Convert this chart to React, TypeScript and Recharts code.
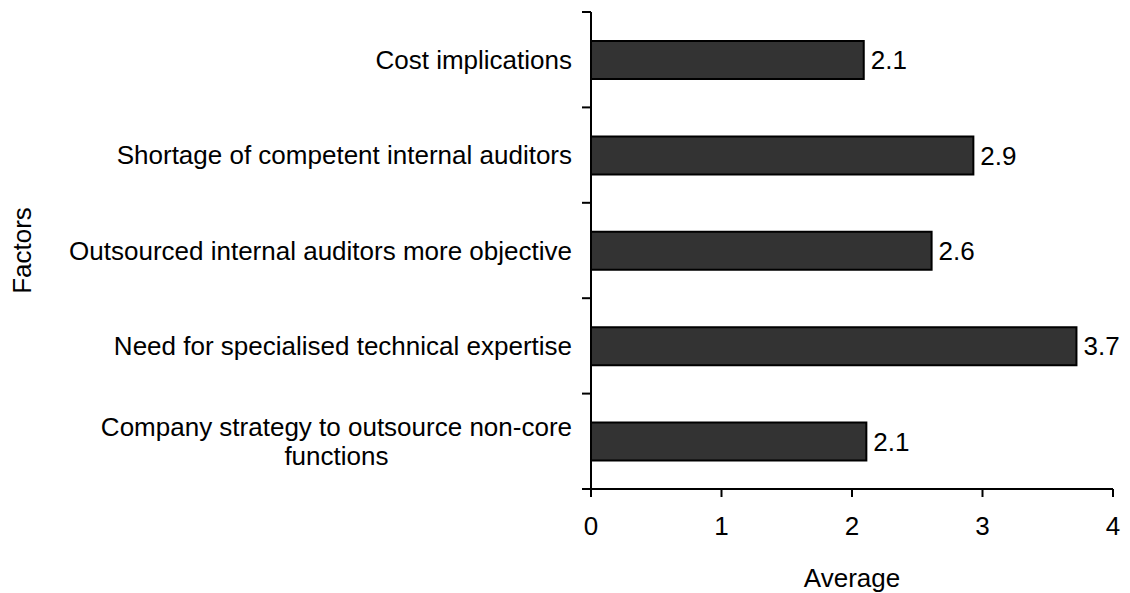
import React from 'react';
import { BarChart, Bar, XAxis, YAxis, LabelList } from 'recharts';

const factors = [
  'Cost implications',
  'Shortage of competent internal auditors',
  'Outsourced internal auditors more objective',
  'Need for specialised technical expertise',
  'Company strategy to outsource non-core\nfunctions',
];
const averages = [2.09, 2.93, 2.61, 3.72, 2.11];
const xTicks = [0, 1, 2, 3, 4];

const W = 1130;
const H = 593;
const PLOT_LEFT = 591;
const PLOT_TOP = 12;
const PLOT_BOTTOM = 489;
const PLOT_RIGHT = 1113;
const BAND = (PLOT_BOTTOM - PLOT_TOP) / factors.length;
const FONT = '"Liberation Sans", Arial, Helvetica, sans-serif';
const FS = 26;

const data = factors.map((name, i) => ({ name, value: averages[i] }));

let ctx: CanvasRenderingContext2D | null = null;
const measure = (s: string) => {
  if (!ctx) ctx = document.createElement('canvas').getContext('2d');
  if (!ctx) return s.length * FS * 0.5;
  ctx.font = `${FS}px ${FONT}`;
  return ctx.measureText(s).width;
};

// category tick: labels plus tick marks on band boundaries
const FactorTick = (props: any) => {
  const { y, payload, index } = props;
  const lines: string[] = String(payload.value).split('\n');
  const right = PLOT_LEFT - 19;
  const top = y - BAND / 2;
  const bottom = y + BAND / 2;
  const lineH = 29;
  let textEl;
  if (lines.length === 1) {
    textEl = (
      <text x={right} y={y} textAnchor="end" dominantBaseline="central" fill="#000" fontSize={FS} fontFamily={FONT}>
        {lines[0]}
      </text>
    );
  } else {
    const maxW = Math.max(...lines.map(measure));
    const cx = right - maxW / 2;
    const y0 = y - ((lines.length - 1) * lineH) / 2;
    textEl = (
      <text textAnchor="middle" fill="#000" fontSize={FS} fontFamily={FONT}>
        {lines.map((l, i) => (
          <tspan key={i} x={cx} y={y0 + i * lineH} dominantBaseline="central">{l}</tspan>
        ))}
      </text>
    );
  }
  return (
    <g>
      <line x1={PLOT_LEFT - 9} x2={PLOT_LEFT} y1={top} y2={top} stroke="#000" strokeWidth={2} />
      {index === factors.length - 1 && (
        <line x1={PLOT_LEFT - 9} x2={PLOT_LEFT} y1={bottom} y2={bottom} stroke="#000" strokeWidth={2} />
      )}
      {textEl}
    </g>
  );
};

export default function App() {
  return (
    <div style={{ position: 'absolute', left: 0, top: 0, background: '#fff' }}>
      <BarChart
        width={W}
        height={H}
        data={data}
        layout="vertical"
        margin={{ top: PLOT_TOP, right: W - PLOT_RIGHT, left: 0, bottom: 0 }}
        barCategoryGap={0}
      >
        <XAxis
          type="number"
          domain={[0, 4]}
          ticks={xTicks}
          interval={0}
          height={H - PLOT_BOTTOM}
          axisLine={{ stroke: '#000', strokeWidth: 2 }}
          tickLine={{ stroke: '#000', strokeWidth: 2 }}
          tickSize={8}
          tickMargin={20}
          tick={{ fill: '#000', fontSize: FS, fontFamily: FONT }}
          label={{ value: 'Average', position: 'insideBottom', offset: 6, fill: '#000', fontSize: FS, fontFamily: FONT }}
        />
        <YAxis
          type="category"
          dataKey="name"
          width={PLOT_LEFT}
          interval={0}
          axisLine={{ stroke: '#000', strokeWidth: 2 }}
          tickLine={false}
          tick={<FactorTick />}
          label={() => (
            <text
              x={22}
              y={(PLOT_TOP + PLOT_BOTTOM) / 2}
              transform={`rotate(-90 22 ${(PLOT_TOP + PLOT_BOTTOM) / 2})`}
              textAnchor="middle"
              dominantBaseline="central"
              fill="#000"
              fontSize={FS}
              fontFamily={FONT}
            >
              Factors
            </text>
          )}
        />
        <Bar dataKey="value" fill="#333333" stroke="#000" strokeWidth={2} barSize={38} isAnimationActive={false}>
          <LabelList
            dataKey="value"
            position="right"
            offset={7}
            formatter={(v: any) => Number(v).toFixed(1)}
            fill="#000"
            fontSize={FS}
            fontFamily={FONT}
          />
        </Bar>
      </BarChart>
    </div>
  );
}
